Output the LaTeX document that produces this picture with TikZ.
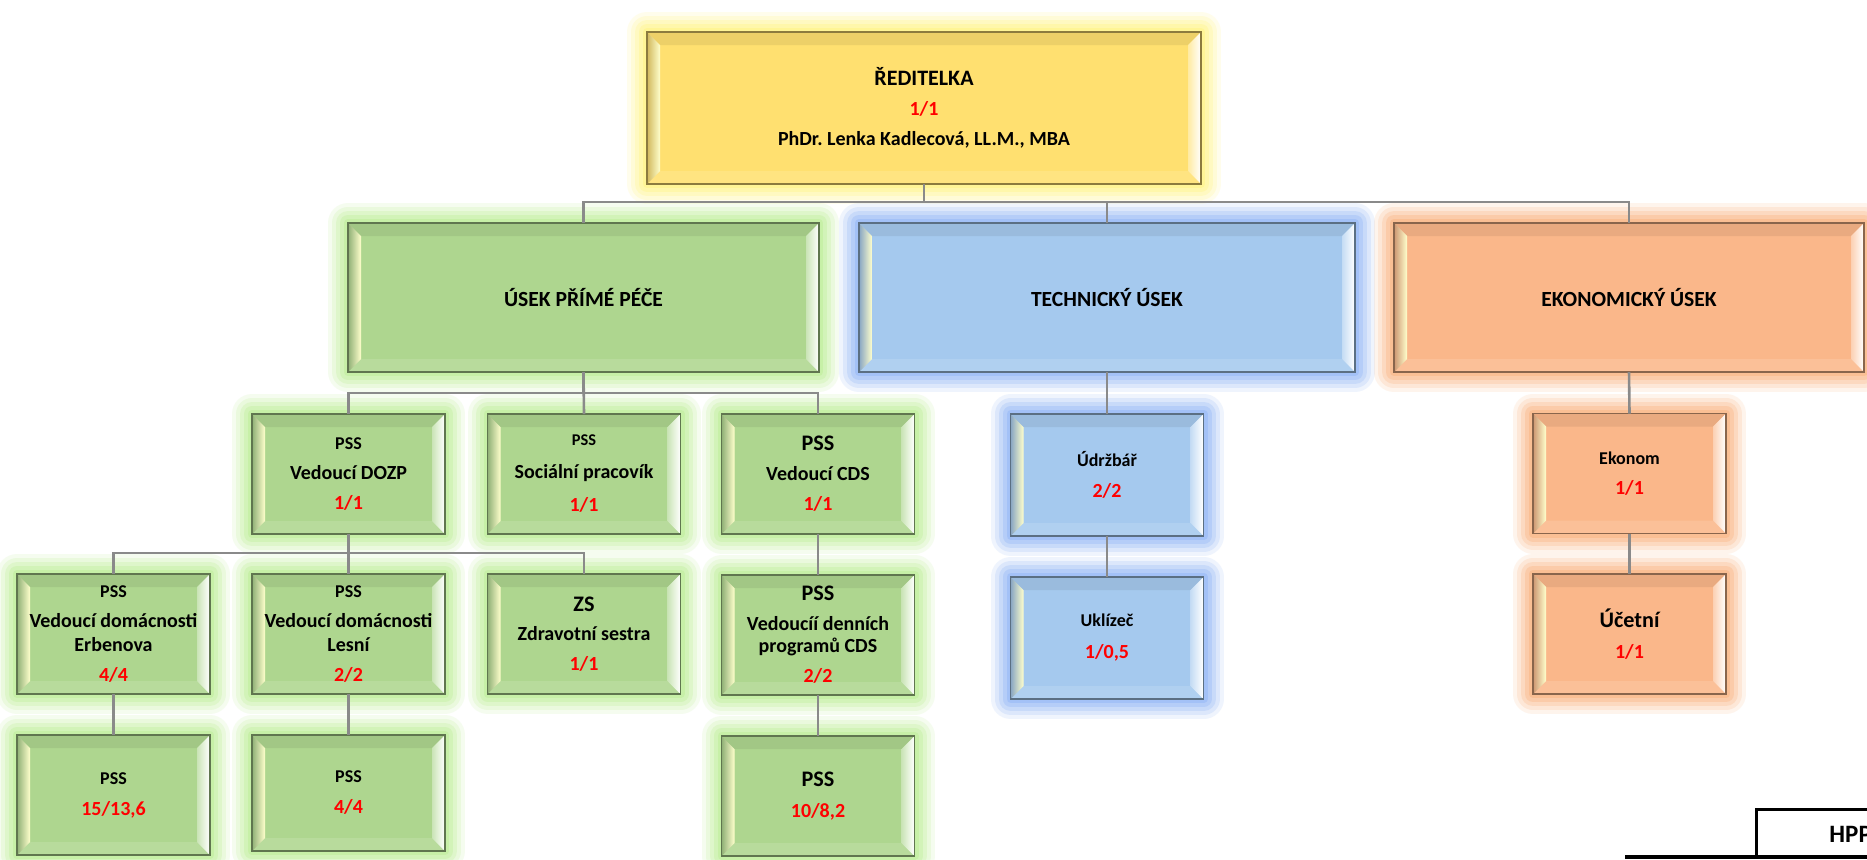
\documentclass[tikz,border=0pt]{standalone}
\usepackage{fontspec}
\setmainfont{Carlito}
\usetikzlibrary{calc}
\definecolor{gbase}{RGB}{174,214,143}
\definecolor{gglow}{RGB}{180,236,138}
\definecolor{bbase}{RGB}{165,201,238}
\definecolor{bglow}{RGB}{132,172,246}
\definecolor{obase}{RGB}{250,183,138}
\definecolor{oglow}{RGB}{250,170,112}
\definecolor{ybase}{RGB}{255,224,112}
\definecolor{yglow}{RGB}{255,244,115}
\definecolor{conncol}{RGB}{138,138,138}
\definecolor{valred}{RGB}{255,0,0}
\newcommand{\val}[1]{\textcolor{valred}{#1}}
\newcommand{\bvw}{6.5pt}
\newcommand{\fsS}{\fontsize{8.2}{10}\selectfont}
\newcommand{\fsM}{\fontsize{9}{11}\selectfont}
\newcommand{\fsL}{\fontsize{11.1}{13}\selectfont}
\newcommand{\fsH}{\fontsize{10.8}{13}\selectfont}
\frenchspacing
\tikzset{
  bevelbox/.style 2 args={
    rectangle, inner sep=0pt, outer sep=0pt, align=center, font=\bfseries,
    fill=#1, draw=#1!55!black, line width=0.7pt,
    preaction={draw=#2, line width=20pt, opacity=0.13, line join=round},
    preaction={draw=#2, line width=16pt, opacity=0.17, line join=round},
    preaction={draw=#2, line width=12pt, opacity=0.22, line join=round},
    preaction={draw=#2, line width=8pt, opacity=0.28, line join=round},
    preaction={draw=#2, line width=4pt, opacity=0.36, line join=round},
    path picture={
      \coordinate (pA) at (path picture bounding box.north west);
      \coordinate (pB) at (path picture bounding box.north east);
      \coordinate (pC) at (path picture bounding box.south east);
      \coordinate (pD) at (path picture bounding box.south west);
      \coordinate (iA) at ($(pA)+(\bvw,-\bvw)$);
      \coordinate (iB) at ($(pB)+(-\bvw,-\bvw)$);
      \coordinate (iC) at ($(pC)+(-\bvw,\bvw)$);
      \coordinate (iD) at ($(pD)+(\bvw,\bvw)$);
      \fill[#1!93!black] (pA) -- (pB) -- (iB) -- (iA) -- cycle;
      \fill[#1!88!white] (pD) -- (pC) -- (iC) -- (iD) -- cycle;
      \shade[left color=#1!82!black, right color=white!80!yellow] (pA) -- (iA) -- (iD) -- (pD) -- cycle;
      \shade[left color=#1!65!white, right color=white] (pB) -- (iB) -- (iC) -- (pC) -- cycle;
    }
  },
  gbox/.style={bevelbox={gbase}{gglow}},
  bbox/.style={bevelbox={bbase}{bglow}},
  obox/.style={bevelbox={obase}{oglow}},
  ybox/.style={bevelbox={ybase}{yglow}},
  smallbox/.style={minimum width=96.5pt, minimum height=60pt},
  bigbox/.style={minimum height=74.5pt},
  conn/.style={draw=conncol, line width=1.3pt}
}
\begin{document}
\begin{tikzpicture}[x=0.5pt,y=-0.5pt]
\fill[white] (0,0) rectangle (1867,859);
\useasboundingbox (0,0) rectangle (1867,859);

% director
\node[ybox, minimum width=277pt, minimum height=76pt] (dir) at (924,108)
  {\fontsize{11}{13.5}\selectfont ŘEDITELKA\\[3pt]\val{1/1}\\[3pt]PhDr. Lenka Kadlecová, LL.M., MBA};

% level 2
\node[gbox, bigbox, minimum width=235.5pt] (usek) at (583.5,297.5) {\fsH ÚSEK PŘÍMÉ PÉČE};
\node[bbox, bigbox, minimum width=248pt] (tech) at (1107,297.5) {\fsH TECHNICKÝ ÚSEK};
\node[obox, bigbox, minimum width=235pt] (eko) at (1629,297.5) {\fsH EKONOMICKÝ ÚSEK};

% level 3
\node[gbox, smallbox] (dozp) at (348.5,474) {\fsM PSS\\[3pt]Vedoucí DOZP\\[3pt]\val{1/1}};
\node[gbox, smallbox] (soc) at (584,474) {\fsS PSS\\[4.5pt]Sociální pracovík\\[4.5pt]\val{1/1}};
\node[gbox, smallbox] (cds) at (818,474) {\fsL PSS\\[3pt]Vedoucí CDS\\[3pt]\val{1/1}};
\node[bbox, smallbox, minimum height=61pt] (udr) at (1107,475) {\fsM Údržbář\\[3.5pt]\val{2/2}};
\node[obox, smallbox] (ekonom) at (1629.5,473.5) {\fsM Ekonom\\[3pt]\val{1/1}};

% level 4
\node[gbox, smallbox] (erb) at (113.5,634) {\fsM PSS\\[3pt]Vedoucí domácnosti\\Erbenova\\[3pt]\val{4/4}};
\node[gbox, smallbox] (les) at (348.5,634) {\fsM PSS\\[3pt]Vedoucí domácnosti\\Lesní\\[3pt]\val{2/2}};
\node[gbox, smallbox] (zs) at (584,634) {\fsL ZS\\[2.8pt]Zdravotní sestra\\[2.8pt]\val{1/1}};
\node[gbox, smallbox] (vdp) at (818,635) {\fsL PSS\\[3pt]Vedoucíí denních\\[-1pt]programů CDS\\[3pt]\val{2/2}};
\node[bbox, smallbox, minimum height=61pt] (ukl) at (1107,638) {\fsM Uklízeč\\[4pt]\val{1/0,5}};
\node[obox, smallbox] (uc) at (1629.5,634) {\fsL Účetní\\[3.5pt]\val{1/1}};

% level 5
\node[gbox, smallbox] (p1) at (113.5,795) {\fsM PSS\\[3.5pt]\val{15/13,6}};
\node[gbox, smallbox, minimum height=58pt] (p2) at (348.5,793) {\fsM PSS\\[3.5pt]\val{4/4}};
\node[gbox, smallbox] (p3) at (818,796) {\fsL PSS\\[3.5pt]\val{10/8,2}};

% connectors
\draw[conn] (dir.south) -- ++(0,18) -| (usek.north);
\draw[conn] (dir.south) -- ++(0,18) -| (tech.north);
\draw[conn] (dir.south) -- ++(0,18) -| (eko.north);

\draw[conn] (usek.south) -- ++(0,21) -| (dozp.north);
\draw[conn] (usek.south) -- ++(0,21) -| (cds.north);
\draw[conn] (usek.south) -- (soc.north);

\draw[conn] (dozp.south) -- ++(0,19) -| (erb.north);
\draw[conn] (dozp.south) -- ++(0,19) -| (zs.north);
\draw[conn] (dozp.south) -- (les.north);

\draw[conn] (erb.south) -- (p1.north);
\draw[conn] (les.south) -- (p2.north);
\draw[conn] (cds.south) -- (vdp.north);
\draw[conn] (vdp.south) -- (p3.north);

\draw[conn] (tech.south) -- (udr.north);
\draw[conn] (udr.south) -- (ukl.north);
\draw[conn] (eko.south) -- (ekonom.north);
\draw[conn] (ekonom.south) -- (uc.north);

% HPP table fragment
\node[font=\bfseries\fontsize{12.5}{15}\selectfont, anchor=west, inner sep=0pt] (hpp) at (1829,834) {HPP};
\coordinate (hppcorner) at (1756,809);
\draw[line width=1.5pt] (1756,857) -- (hppcorner) -- (1880,809);
\draw[line width=1.8pt] (1625,857) -- (1880,857);
\end{tikzpicture}
\end{document}
